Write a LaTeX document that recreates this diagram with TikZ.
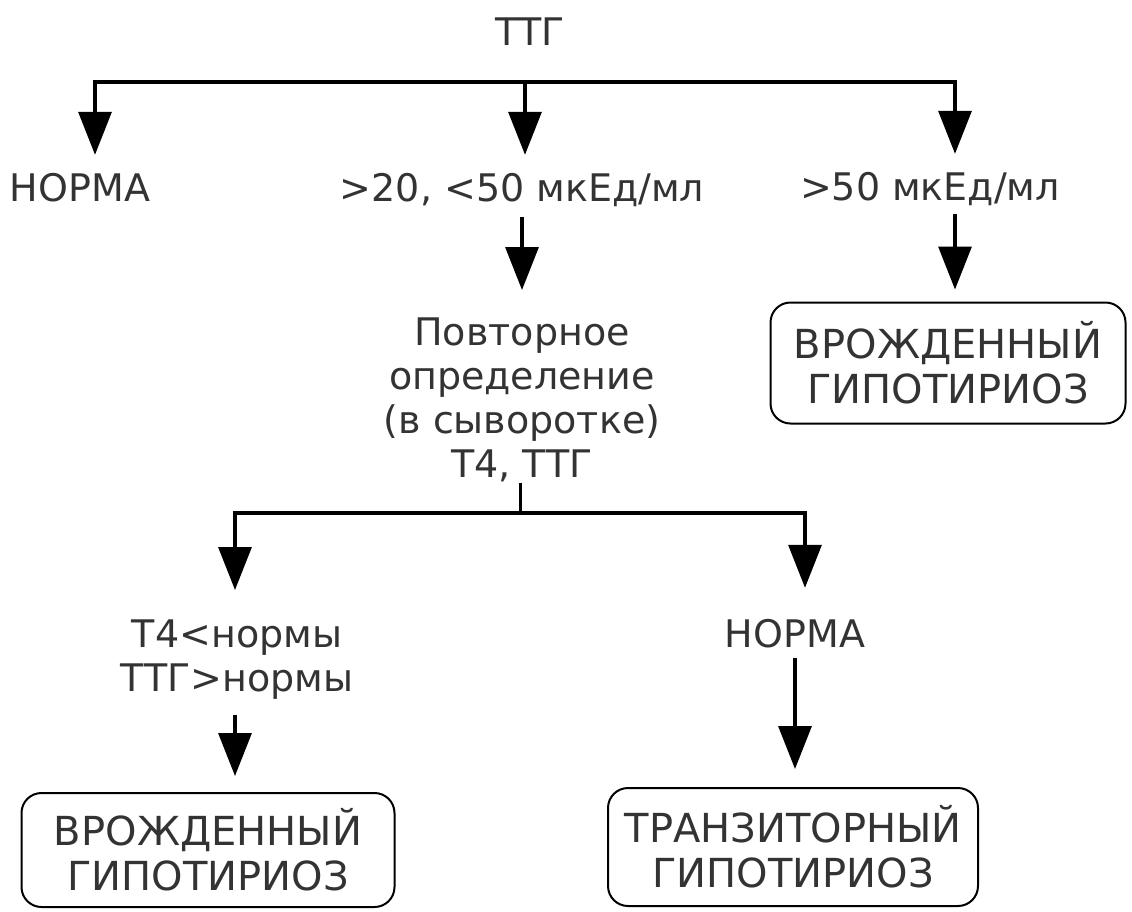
\documentclass[tikz,border=0pt]{standalone}
\usepackage{fontspec}
\setmainfont{DejaVu Sans}
\usetikzlibrary{arrows.meta,calc}
\begin{document}
\begin{tikzpicture}[x=1pt,y=-1pt,
  lbl/.style={inner sep=0pt, text=black!80, font=\fontsize{38}{44}\selectfont, align=center},
  sgl/.style={text height=28pt, text depth=9pt},
  res/.style={draw, line width=2pt, rounded corners=20pt, inner sep=0pt, text=black!80, font=\fontsize{40}{45}\selectfont, align=center},
  bar/.style={line width=4pt, line cap=rect},
  arr/.style={line width=3.2pt, -{Triangle[width=33pt,length=43pt]}}]
\useasboundingbox (0,0) rectangle (1132,911);
% nodes
\node[lbl, sgl, anchor=base] (ttg) at (530,45) {ТТГ};
\node[lbl, sgl, anchor=base] (n1) at (80,201) {НОРМА};
\node[lbl, sgl, anchor=base] (mid) at (522,201) {>20, <50 мкЕд/мл};
\node[lbl, sgl, anchor=base] (hi) at (930,200) {>50 мкЕд/мл};
\node[lbl, anchor=north] (rep) at (522,318) {Повторное\\определение\\(в сыворотке)\\Т4, ТТГ};
\node[res, minimum width=355pt, minimum height=121pt] (b1) at (948,363) {ВРОЖДЕННЫЙ\\ГИПОТИРИОЗ};
\node[lbl, anchor=north] (low) at (237,620) {Т4<нормы\\ТТГ>нормы};
\node[lbl, sgl, anchor=base] (n2) at (795,647) {НОРМА};
\node[res, minimum width=373pt, minimum height=114pt] (b2) at (208,850) {ВРОЖДЕННЫЙ\\ГИПОТИРИОЗ};
\node[res, minimum width=370pt, minimum height=118pt] (b3) at (793,847) {ТРАНЗИТОРНЫЙ\\ГИПОТИРИОЗ};
% junctions
\coordinate (jL) at (95,82);
\coordinate (jM) at (525,82);
\coordinate (jR) at (955,82);
\coordinate (kM) at (520,513);
\coordinate (kL) at (235,513);
\coordinate (kR) at (805,513);
% connectors
\draw[bar] (jL) -- (jR);
\draw[arr, shorten >=18pt] (jL) -- (jL |- n1.north);
\draw[arr, shorten >=18pt] (jM) -- (jM |- mid.north);
\draw[arr, shorten >=18pt] (jR) -- (jR |- hi.north);
\draw[arr, shorten <=7pt, shorten >=28pt] (mid.south) -- (rep.north);
\draw[arr, shorten <=5pt, shorten >=12pt] (jR |- hi.south) -- (jR |- b1.north);
\draw[line width=3pt] (rep.south -| kM) -- (kM);
\draw[bar] (kL) -- (kR);
\draw[arr, shorten >=30pt] (kL) -- (kL |- low.north);
\draw[arr, shorten >=31pt] (kR) -- (kR |- n2.north);
\draw[arr, shorten <=15pt, shorten >=16pt] (low.south -| kL) -- (kL |- b2.north);
\draw[arr, shorten <=2pt, shorten >=18pt] (n2.south) -- (n2.south |- b3.north);
\end{tikzpicture}
\end{document}
